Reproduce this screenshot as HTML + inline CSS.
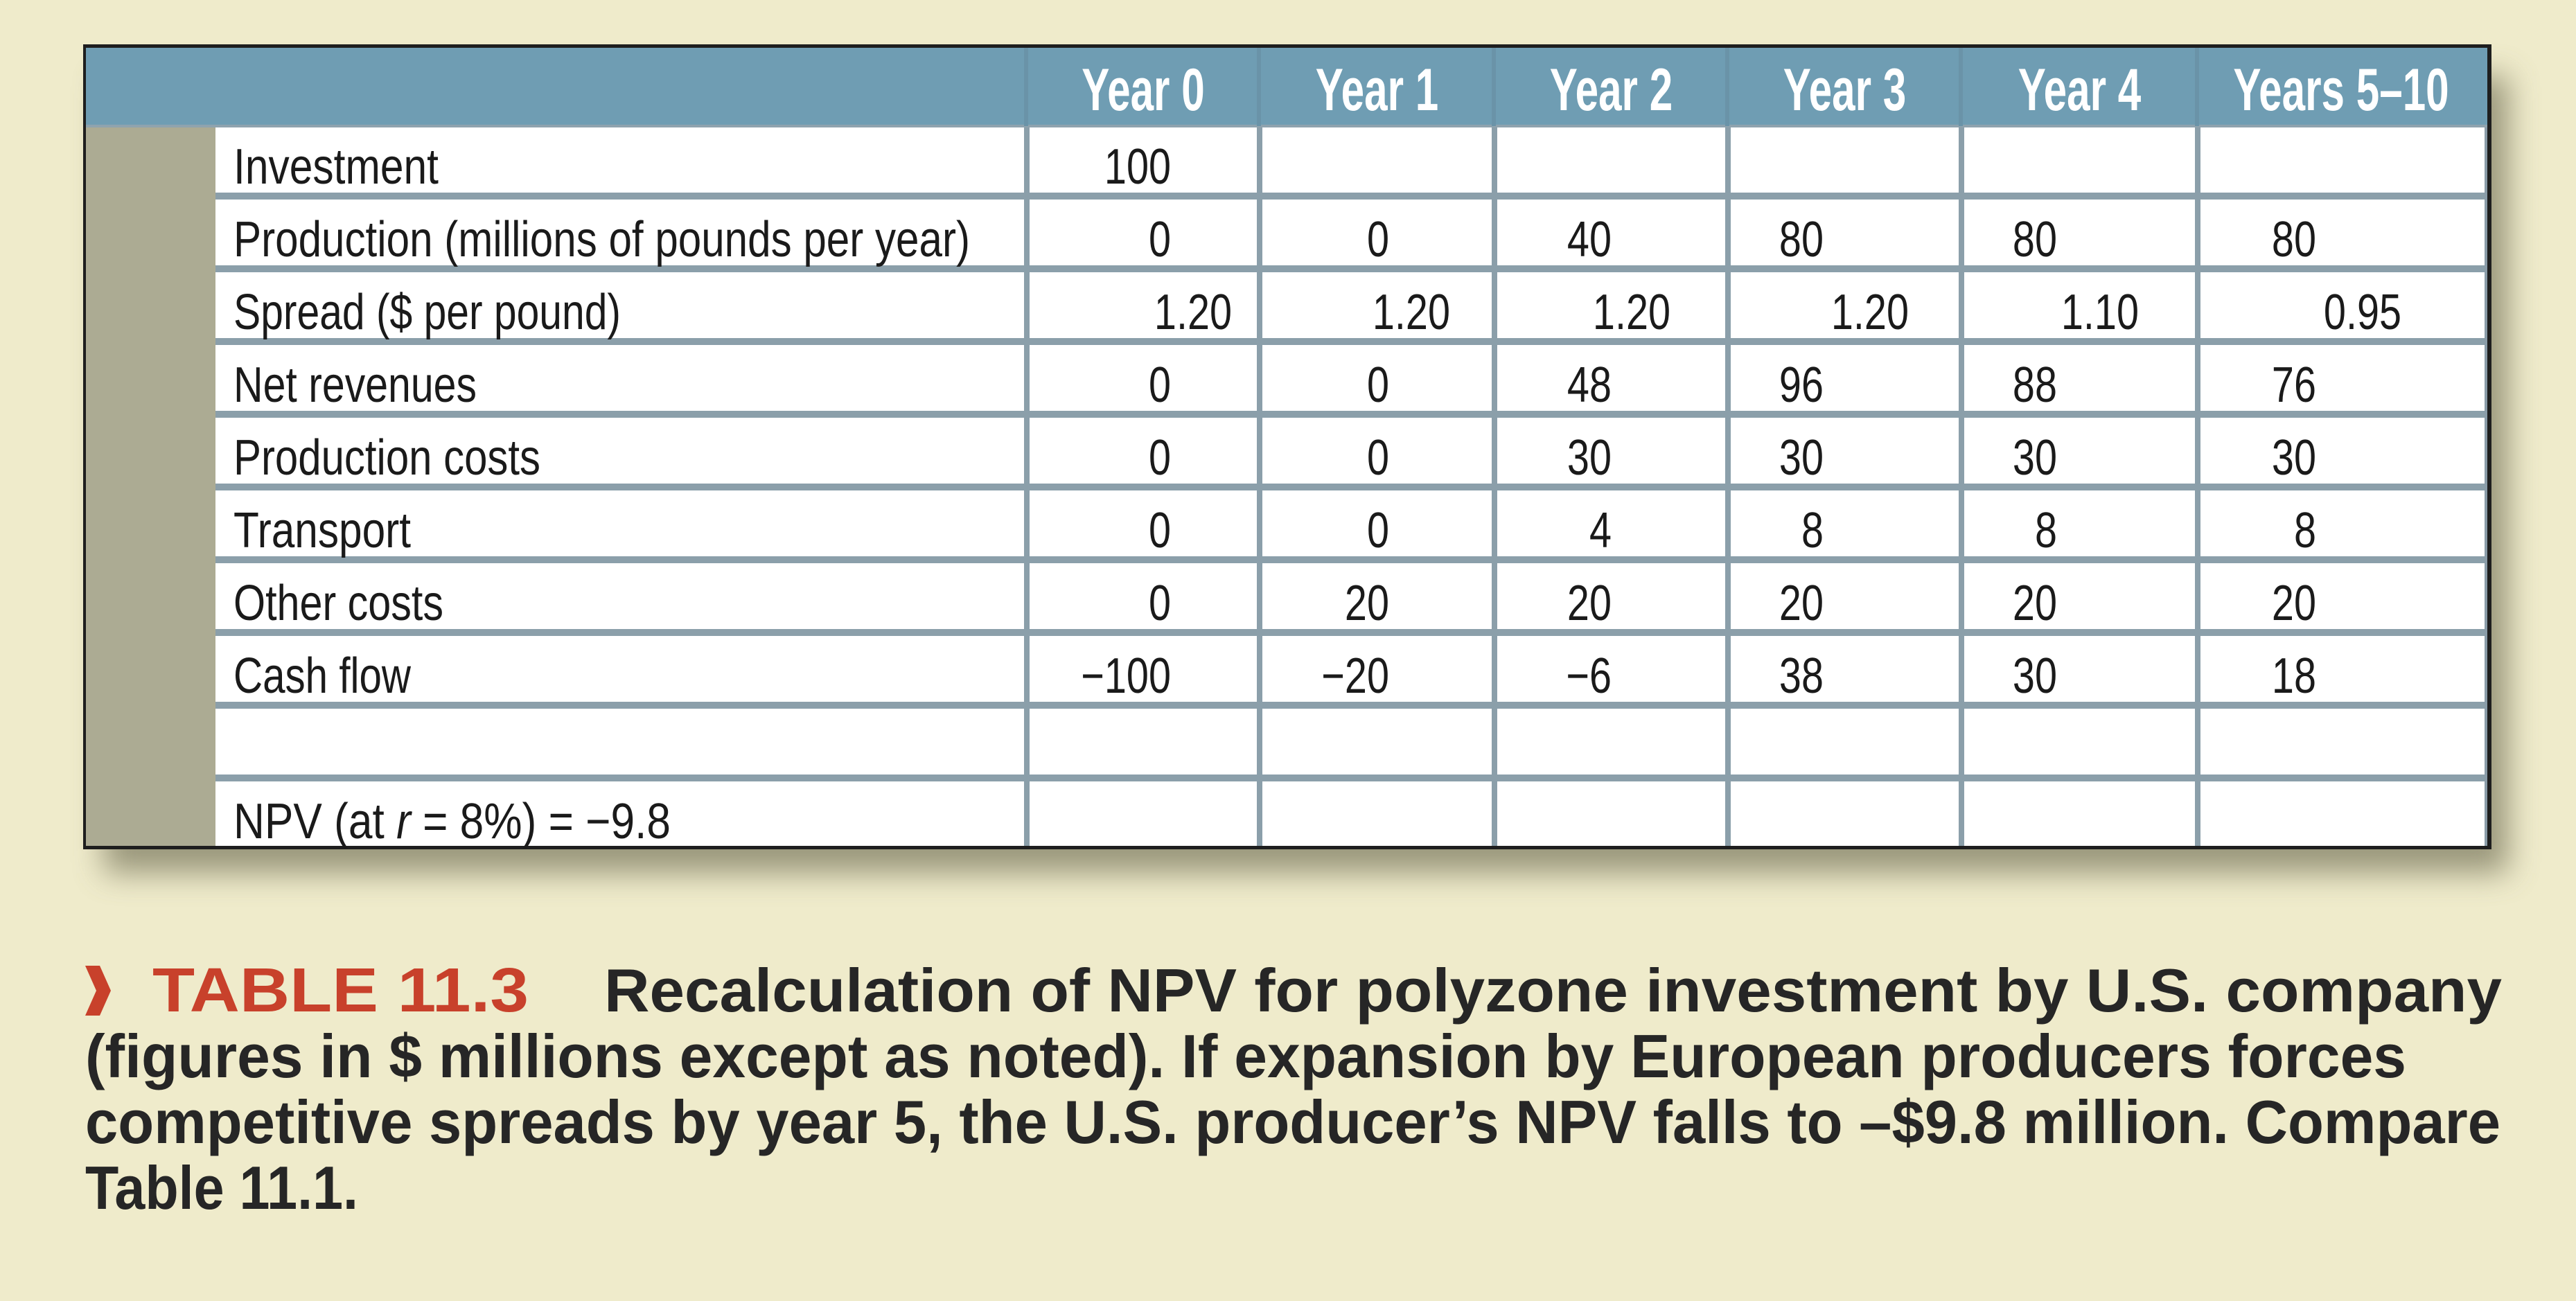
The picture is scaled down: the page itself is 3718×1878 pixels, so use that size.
<!DOCTYPE html>
<html><head><meta charset="utf-8"><style>
html,body{margin:0;padding:0;background:#efebcb;}
svg{display:block;}
</style></head><body>
<svg id="fig" width="3718" height="1878" viewBox="0 0 3718 1878" xmlns="http://www.w3.org/2000/svg" font-family="'Liberation Sans', Arial, sans-serif">
<defs>
<filter id="sh" x="-5%" y="-10%" width="115%" height="130%">
<feGaussianBlur stdDeviation="22"/>
</filter>
</defs>
<rect width="3718" height="1878" fill="#efebcb"/>
<rect x="150" y="110" width="3470" height="1150" fill="#7d7a60" opacity="0.75" filter="url(#sh)"/>
<rect x="120" y="64" width="3476" height="1162" fill="#1e1e1e"/>
<rect x="124" y="69" width="3466" height="113" fill="#6f9db3"/>
<rect x="124" y="180" width="3466" height="4" fill="#8fa3ae"/>
<rect x="124" y="184" width="187" height="1037" fill="#acab93"/>
<rect x="311" y="184" width="3275" height="1037" fill="#ffffff"/>
<rect x="3586" y="184" width="4" height="1037" fill="#8a9ca8"/>
<g id="grid"></g>
<g id="cells"></g>
<g id="caption">
<polygon points="123,1394 144,1394 160,1430 144,1466 123,1466 139,1430" fill="#c8412b"/>
<text x="220" y="1460" font-size="90" font-weight="bold" fill="#c8412b" textLength="543" lengthAdjust="spacingAndGlyphs">TABLE 11.3</text>
<text x="872" y="1460" font-size="88" font-weight="bold" fill="#262626" textLength="2739" lengthAdjust="spacingAndGlyphs">Recalculation of NPV for polyzone investment by U.S. company</text>
<text x="123" y="1555" font-size="88" font-weight="bold" fill="#262626" textLength="3350" lengthAdjust="spacingAndGlyphs">(figures in $ millions except as noted). If expansion by European producers forces</text>
<text x="123" y="1650" font-size="88" font-weight="bold" fill="#262626" textLength="3486" lengthAdjust="spacingAndGlyphs">competitive spreads by year 5, the U.S. producer’s NPV falls to –$9.8 million. Compare</text>
<text x="123" y="1745" font-size="88" font-weight="bold" fill="#262626" textLength="394" lengthAdjust="spacingAndGlyphs">Table 11.1.</text>
</g>
</svg>
<script>
var columns = ["Year 0","Year 1","Year 2","Year 3","Year 4","Years 5–10"];
var rowLabels = ["Investment","Production (millions of pounds per year)","Spread ($ per pound)","Net revenues","Production costs","Transport","Other costs","Cash flow","",""];
var investment = ["100","","","","",""];
var production = ["0","0","40","80","80","80"];
var spread = ["1.20","1.20","1.20","1.20","1.10","0.95"];
var netRevenues = ["0","0","48","96","88","76"];
var productionCosts = ["0","0","30","30","30","30"];
var transport = ["0","0","4","8","8","8"];
var otherCosts = ["0","20","20","20","20","20"];
var cashFlow = ["−100","−20","−6","38","30","18"];
var npvText = "= −9.8";

var NS = "http://www.w3.org/2000/svg";
var grid = document.getElementById('grid');
var cells = document.getElementById('cells');
var colLefts = [1482,1818,2157,2494,2831,3172];
var colRightEdge = 3586;
var intOff = [208,187,169,138,138,171];
var decOff = [296,275,254,261,256,294];
var labelW = [296,1063,559,351,443,256,303,256,0,0];
function lineY(k){ return 283 + 105*k; }
function mk(tag, attrs){ var e=document.createElementNS(NS,tag); for(var k in attrs){ e.setAttribute(k,attrs[k]); } return e; }

for (var k=0;k<9;k++){
  var r = mk('rect',{x:311,y:lineY(k)-5,width:3275,height:10,fill:'#8b9faa'});
  
  
  grid.appendChild(r);
}
for (var c=0;c<colLefts.length;c++){
  var s = mk('rect',{x:colLefts[c]-4,y:184,width:8,height:1037,fill:'#8b9faa'});
  
  
  grid.appendChild(s);
  var h = mk('rect',{x:colLefts[c]-4,y:69,width:6,height:113,fill:'#6a93a8'});
  
  
  grid.appendChild(h);
}
for (var c=0;c<columns.length;c++){
  var right = c<columns.length-1 ? colLefts[c+1] : colRightEdge;
  var cx = (colLefts[c]+right)/2;
  var t = mk('text',{x:cx,y:159,'font-size':86,'font-weight':'bold',fill:'#ffffff','text-anchor':'middle',transform:'translate('+cx+',0) scale(0.7,1) translate('+(-cx)+',0)'});
  t.textContent = columns[c];
  
  
  cells.appendChild(t);
}
for (var i=0;i<rowLabels.length;i++){
  if (!rowLabels[i]) continue;
  var t = mk('text',{x:337,y:lineY(i)-18,'font-size':72,fill:'#1a1a1a',textLength:labelW[i],lengthAdjust:'spacingAndGlyphs'});
  t.textContent = rowLabels[i];
  
  
  cells.appendChild(t);
}
var npv = mk('text',{x:337,y:lineY(9)-18,'font-size':72,fill:'#1a1a1a',textLength:631,lengthAdjust:'spacingAndGlyphs'});
npv.appendChild(document.createTextNode('NPV (at '));
var it = mk('tspan',{'font-style':'italic'}); it.textContent='r'; npv.appendChild(it);
npv.appendChild(document.createTextNode(' = 8%) '+npvText));


cells.appendChild(npv);

var series = [investment,production,spread,netRevenues,productionCosts,transport,otherCosts,cashFlow];
for (var i=0;i<series.length;i++){
  for (var c=0;c<6;c++){
    var v = series[i][c];
    if (!v) continue;
    var isDec = v.indexOf('.')>=0;
    var x = colLefts[c] + (isDec ? decOff[c] : intOff[c]);
    var y = lineY(i)-18;
    var t = mk('text',{x:x,y:y,'font-size':72,fill:'#1a1a1a','text-anchor':'end',transform:'translate('+x+',0) scale(0.8,1) translate('+(-x)+',0)'});
    t.textContent = v;
    
    
    cells.appendChild(t);
  }
}
</script>
</body></html>
